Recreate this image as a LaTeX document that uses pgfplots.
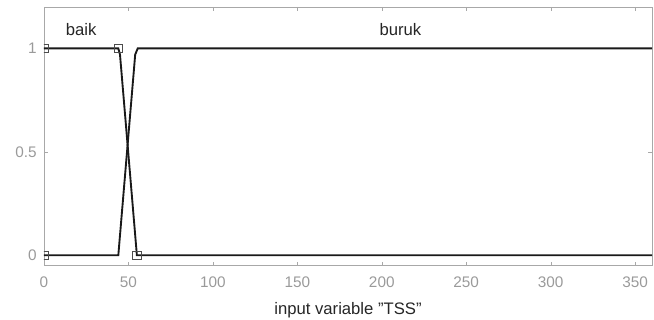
\documentclass[border=0pt]{standalone}
\usepackage{pgfplots}
\pgfplotsset{compat=1.18}
\usepackage{fontspec}
\setmainfont{Liberation Sans}
\usetikzlibrary{calc}
\definecolor{axgray}{HTML}{A8A8A8}
\definecolor{tickgray}{HTML}{9A9A9A}
\begin{document}
\begin{tikzpicture}
\begin{axis}[
  scale only axis,
  width=456pt, height=194pt,
  xmin=0, xmax=360, ymin=-0.05, ymax=1.2,
  xtick={0,50,...,350}, ytick={0,0.5,1},
  yticklabels={0,0.5,1},
  tick align=inside,
  major tick length=3pt,
  axis line style={axgray, line width=0.6pt},
  tick style={axgray},
  every tick label/.append style={font=\fontsize{11.5}{13}\selectfont, text=tickgray},
  xticklabel style={yshift=-5pt},
  yticklabel style={xshift=-2pt},
  /pgf/number format/assume math mode=true,
  xlabel={input variable "TSS"},
  xlabel style={font=\fontsize{12.5}{14}\selectfont, text=black!85, yshift=-4pt},
  clip marker paths=true,
]
\addplot[black!90, line width=1.4pt] coordinates {(0,1) (44,1) (45,0.97) (55,0) (360,0)};
\addplot[black!90, line width=1.4pt] coordinates {(0,0) (44,0) (54,0.97) (55.5,1) (360,1)};
\addplot[only marks, mark=square, mark size=3.2pt, black!70, line width=0.8pt] coordinates {(0,1) (0,0) (44,1) (55,0)};
\node[font=\fontsize{12.5}{14}\selectfont, text=black!85] at (axis cs:22,1.09) {baik};
\node[font=\fontsize{12.5}{14}\selectfont, text=black!85] at (axis cs:211,1.09) {buruk};
\end{axis}
\pgfresetboundingbox
\path ($(current axis.south west)+(-33pt,-40.5pt)$) rectangle ($(current axis.north east)+(1.5pt,5.25pt)$);
\end{tikzpicture}
\end{document}
